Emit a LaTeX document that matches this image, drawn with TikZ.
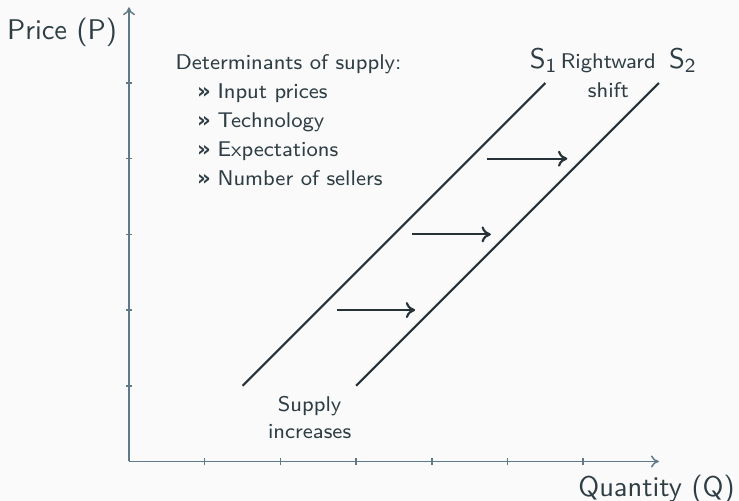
\documentclass[tikz,border=0pt]{standalone}
\usepackage{fontspec}
\usetikzlibrary{arrows.meta}
\newfontfamily\markfont{DejaVu Sans}
\definecolor{bg}{HTML}{FAFAFA}
\definecolor{ink}{HTML}{2F3E45}
\definecolor{curve}{HTML}{263238}
\definecolor{axisgray}{HTML}{5F7A86}
\begin{document}
\sffamily
\begin{tikzpicture}[x=1cm,y=1cm,
  axisline/.style={draw=axisgray, line width=0.55pt, -{To[length=3pt,width=4.5pt]}},
  tickmark/.style={draw=axisgray, line width=0.55pt},
  supplyline/.style={draw=curve, line width=0.8pt},
  shiftarrow/.style={draw=curve, line width=0.8pt, -{To[length=3.5pt,width=6pt]}},
  biglabel/.style={text=ink, font=\fontsize{10.7}{13}\selectfont, inner sep=0pt, anchor=base},
  smalllabel/.style={text=ink, font=\fontsize{8}{10.9}\selectfont, inner sep=0pt, anchor=base},
  listline/.style={smalllabel, anchor=base west},
]
% canvas
\fill[bg] (-1.704,-0.522) rectangle (8.058,6.096);
\useasboundingbox (-1.704,-0.522) rectangle (8.058,6.096);

% axes
\coordinate (O) at (0,0);
\coordinate (xend) at (7,0);
\coordinate (yend) at (0,6);
\draw[axisline] (O) -- (xend);
\draw[axisline] (O) -- (yend);
\foreach \i in {1,...,6}
  \draw[tickmark] (\i,-0.046) -- (\i,0.046);
\foreach \i in {1,...,5}
  \draw[tickmark] (-0.046,\i) -- (0.046,\i);

\node[biglabel] (ylab) at (-0.885,5.568) {Price (P)};
\node[biglabel] (xlab) at (6.968,-0.456) {Quantity (Q)};

% supply curves
\coordinate (s1a) at (1.5,1);
\coordinate (s1b) at (5.5,5);
\coordinate (s2a) at (3,1);
\coordinate (s2b) at (7,5);
\draw[supplyline] (s1a) -- (s1b);
\draw[supplyline] (s2a) -- (s2b);

\node[biglabel] (s1lab) at (5.478,5.194) {S\textsubscript{1}};
\node[biglabel] (s2lab) at (7.318,5.194) {S\textsubscript{2}};

% shift arrows
\coordinate (a1) at (2.75,2);
\coordinate (b1) at (3.78,2);
\coordinate (a2) at (3.74,3);
\coordinate (b2) at (4.78,3);
\coordinate (a3) at (4.73,4);
\coordinate (b3) at (5.79,4);
\draw[shiftarrow] (a1) -- (b1);
\draw[shiftarrow] (a2) -- (b2);
\draw[shiftarrow] (a3) -- (b3);

% annotations
\node[smalllabel] (shiftA) at (6.332,5.194) {Rightward};
\node[smalllabel] (shiftB) at (6.332,4.806) {shift};
\node[smalllabel] (incA) at (2.386,0.658) {Supply};
\node[smalllabel] (incB) at (2.386,0.30) {increases};

% determinants list
\newcommand{\listmark}{\makebox[7.7pt][l]{\markfont\bfseries »}}
\node[listline] (det) at (0.608,5.181) {Determinants of supply:};
\node[listline] (item1) at (0.892,4.798) {\listmark Input prices};
\node[listline] (item2) at (0.892,4.410) {\listmark Technology};
\node[listline] (item3) at (0.892,4.026) {\listmark Expectations};
\node[listline] (item4) at (0.892,3.643) {\listmark Number of sellers};
\end{tikzpicture}
\end{document}
